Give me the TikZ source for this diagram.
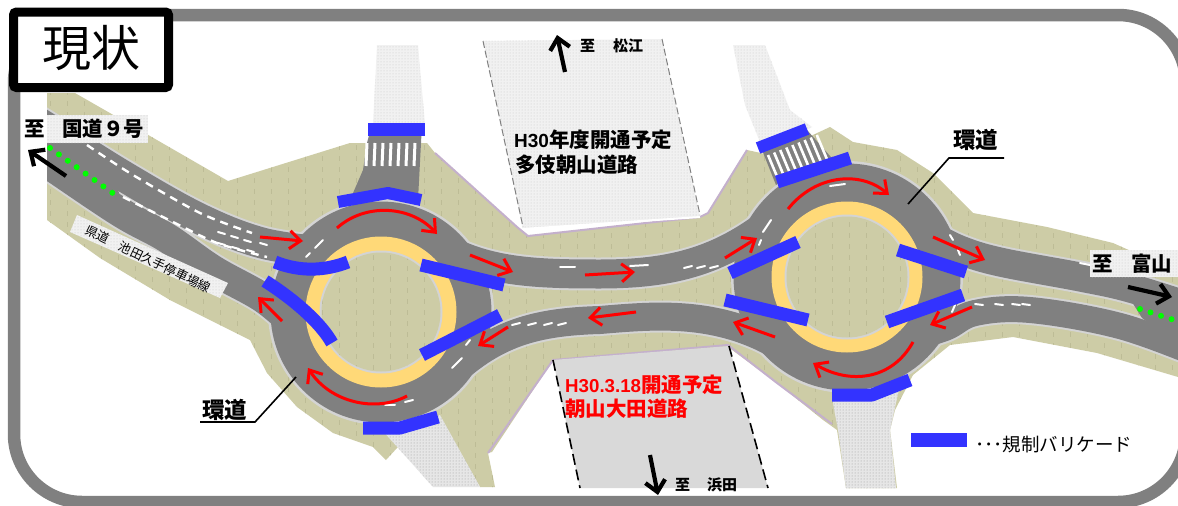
\documentclass[tikz,border=0pt]{standalone}
\usepackage{fontspec}
\setmainfont{Liberation Sans}
\newfontfamily\cjk{Noto Sans CJK JP}
\usetikzlibrary{arrows.meta,patterns}
\definecolor{khaki}{HTML}{CDCCA6}
\definecolor{khakid}{HTML}{BDBC96}
\definecolor{roadg}{HTML}{808080}
\definecolor{edgeg}{HTML}{D4D4D4}
\definecolor{lilac}{HTML}{C4B0CC}
\definecolor{ringy}{HTML}{FFD978}
\definecolor{barb}{HTML}{3333FF}
\definecolor{framegr}{HTML}{808080}
\definecolor{paleg}{HTML}{F1F1F1}
\definecolor{legg}{HTML}{E6E6E6}
\definecolor{zoneg}{HTML}{D9D9D9}
\tikzset{
  redar/.style={draw=red,line width=3pt,-{Straight Barb[length=11pt,width=18pt,line width=3pt]}},
  blackar/.style={draw=black,line width=4.2pt,-{Straight Barb[length=11pt,width=20pt,line width=4.2pt]}},
  barricade/.style={draw=barb,line width=13pt,line join=round},
  dotzone/.style={fill=paleg,postaction={pattern=dots,pattern color=gray!45}},
  legzone/.style={fill=legg,postaction={pattern=dots,pattern color=gray!80}},
  lanemark/.style={draw=white,line width=2.4pt,dash pattern=on 8pt off 6pt},
  paint/.style={draw=white,line width=2pt,line cap=round},
  lab/.style={font=\cjk\bfseries,text=black,inner sep=0pt,anchor=base west},
  leader/.style={draw=black,line width=1.6pt},
  roadline/.style={line cap=round},
}
\newcommand{\groundpath}{(47,93)--(75,93)--(150,136)--(228,181)--(350,143)--(427,143)--(435,153)--(517,227)--(528,236)--(700,217)--(708,213)--(747,150)--(770,155)--(830,127)--(853,142)--(897,150)--(933,173)--(973,213)--(1047,227)--(1113,243)--(1178,272)--(1178,377)--(1097,353)--(1013,337)--(950,345)--(913,375)--(895,410)--(890,430)--(897,488)--(846,488)--(837,430)--(823,420)--(777,383)--(728,347)--(553,360)--(492,452)--(488,453)--(495,487)--(480,487)--(440,417)--(397,448)--(386,460)--(373,447)--(333,433)--(297,407)--(267,373)--(250,340)--(170,300)--(100,258)--(47,220)--cycle}
\newcommand{\roadA}{plot[smooth,tension=.6] coordinates {(15,108)(47,128)(125,177)(200,219)(262,243)(322,252)}}
\newcommand{\roadB}{plot[smooth,tension=.6] coordinates {(15,142)(47,163)(120,212)(167,238)(213,270)(263,298)(295,325)}}
\newcommand{\roadC}{(428,238) .. controls (478,272) and (530,274) .. (600,274) .. controls (680,274) and (730,258) .. (790,205)}
\newcommand{\roadD}{(440,385) .. controls (490,335) and (530,322) .. (600,320) .. controls (660,315) and (730,308) .. (800,360)}
\newcommand{\roadE}{plot[smooth,tension=.6] coordinates {(930,235)(960,250)(1000,262)(1080,277)(1130,288)(1200,310)}}
\newcommand{\roadF}{plot[smooth,tension=.6] coordinates {(905,340)(945,328)(975,313)(1030,310)(1120,326)(1200,355)}}
\begin{document}
\begin{tikzpicture}[x=1pt,y=-1pt]
\path[use as bounding box,clip] (0,0) rectangle (1178,506);
\fill[white] (0,0) rectangle (1178,506);
% frame
\draw[framegr,line width=12.5pt,rounded corners=68pt] (14,15) rectangle (1186,502);
% ground
\fill[khaki] \groundpath;
\begin{scope}
\clip \groundpath;
\foreach \vx in {50,67,...,1178}{\draw[khakid,line width=.8pt,dash pattern=on 5pt off 6pt] (\vx,90)--(\vx,490);}
\end{scope}
% lilac edges
\draw[lilac,line width=2pt] (435,153)--(517,227)--(528,236)--(700,217)--(708,213)--(747,150);
\draw[lilac,line width=2pt] (488,453)--(553,360)--(728,345)--(777,383)--(832,424);
% dotted zones
\path[dotzone] (483,41)--(662,39)--(700,217)--(523,229)--cycle;
\draw[white,line width=2pt] (523,229)--(700,217);
\draw[gray,line width=1pt,dash pattern=on 7pt off 3pt] (483,41)--(523,227);
\draw[gray,line width=1pt,dash pattern=on 7pt off 3pt] (662,39)--(700,215);
\path[dotzone] (377,45)--(418,45)--(425,124)--(373,124)--cycle;
\path[dotzone] (733,45)--(765,45)--(790,110)--(812,127)--(764,152)--(745,105)--cycle;
\path[legzone] (382,430)--(440,415)--(480,487)--(433,487)--cycle;
\path[legzone] (832,398)--(900,385)--(890,430)--(896,488)--(846,488)--(838,430)--cycle;
% future road zone south
\fill[zoneg] (553,360)--(729,346)--(768,488)--(580,488)--cycle;
\draw[black,line width=1.6pt,dash pattern=on 11pt off 5pt] (553,360)--(580,488);
\draw[black,line width=1.6pt,dash pattern=on 11pt off 5pt] (729,346)--(768,488);
% leg roads
\fill[roadg] (372,124)--(422,124)--(418,200)--(350,200)--(363,170)--(367,143)--cycle;
\fill[roadg] (762,150)--(807,130)--(838,165)--(780,195)--cycle;
% crosswalks
\foreach \vx in {367,375,...,415}{\draw[white,line width=3pt] (\vx,143)--(\vx-1,166);}
\foreach \i in {0,...,8}{\draw[white,line width=2.6pt] ({768+\i*6.1},{155-\i*2.5})--({781+\i*6.1},{186-\i*2.5});}
% road network, cut off at the west margin
\begin{scope}
\clip (47,0) rectangle (1178,506);
\draw[edgeg,roadline,line width=35pt] \roadA;
\draw[edgeg,roadline,line width=34pt] \roadB;
\draw[edgeg,roadline,line width=33pt] \roadC;
\draw[edgeg,roadline,line width=32pt] \roadD;
\draw[edgeg,roadline,line width=33pt] \roadE;
\draw[edgeg,roadline,line width=30pt] \roadF;
\fill[edgeg] (381,312) circle[radius=113];
\fill[edgeg] (847,277) circle[radius=116];
\draw[roadg,roadline,line width=31pt] \roadA;
\draw[roadg,roadline,line width=30pt] \roadB;
\draw[roadg,roadline,line width=29pt] \roadC;
\draw[roadg,roadline,line width=28pt] \roadD;
\draw[roadg,roadline,line width=29pt] \roadE;
\draw[roadg,roadline,line width=26pt] \roadF;
\fill[roadg] (47,125)--(110,165)--(120,196)--(47,165)--cycle;
\fill[roadg] (1132,302)--(1178,302)--(1178,345)--(1142,318)--cycle;
\fill[roadg] (381,312) circle[radius=110.5];
\fill[roadg] (847,277) circle[radius=113.5];
\end{scope}
% central islands
\fill[ringy] (381,312) circle[radius=75.5];
\fill[edgeg] (381,312) circle[radius=61.5];
\fill[khaki] (381,312) circle[radius=59.5];
\fill[ringy] (847,277) circle[radius=75.5];
\fill[edgeg] (847,277) circle[radius=62.5];
\fill[khaki] (847,277) circle[radius=60.5];
\begin{scope}
\clip (381,312) circle[radius=59.5] (847,277) circle[radius=60.5];
\foreach \vx in {50,67,...,1178}{\draw[khakid,line width=.8pt,dash pattern=on 5pt off 6pt] (\vx,200)--(\vx,400);}
\end{scope}
% green dots and road marks on the west approach
\foreach \i in {0,...,7}{\fill[green] ({50+\i*8.9},{148+\i*6.4}) circle[radius=3];}
\draw[lanemark] plot[smooth] coordinates {(87,145)(133,175)(200,213)(252,233)};
\draw[lanemark] plot[smooth] coordinates {(123,197)(167,219)(217,243)(267,257)};
\foreach \sx/\sy in {218/232,231/236,244/240,218/243,232/247,247/250,260/243}{\draw[paint] (\sx,\sy)--++(7,2);}
\foreach \sx in {512,528,544,558}{\draw[paint] (\sx,325)--++(8,-2);}
\foreach \sx in {684,697,710}{\draw[paint] (\sx,268)--++(8,-2);}
\foreach \sx in {975,995,1012,1022}{\draw[paint] (\sx,304)--++(8,1);}
\draw[paint] (560,267)--(575,267);\draw[paint] (630,266)--(648,265);
\draw[paint] (1080,263)--(1095,266);
\draw[paint] (315,248)--(323,240);\draw[paint] (306,257)--(310,253);
\draw[paint] (452,368)--(462,358);\draw[paint] (466,345)--(470,340);
\draw[paint] (385,405)--(395,405);\draw[paint] (405,402)--(413,400);
\draw[paint] (763,232)--(771,220);\draw[paint] (759,245)--(761,240);
\draw[paint] (830,186)--(845,184);
\draw[paint] (950,235)--(953,240);\draw[paint] (958,250)--(960,255);
\draw[paint] (952,312)--(955,305);
% green dots east
\foreach \i in {0,...,3}{\fill[green] ({1140+\i*10.5},{309+\i*3.4}) circle[radius=3];}
% barricades
\draw[barricade] (368,129.5)--(425,129.5);
\draw[barricade,line width=12pt] (338,202)--(388,193)--(421,200);
\draw[barricade,line width=13pt] (275,262) .. controls (300,272) and (325,271) .. (348,262);
\draw[barricade,line width=13pt] (421,265)--(504,285);
\draw[barricade] (265,281) .. controls (298,302) and (322,325) .. (332,343);
\draw[barricade] (500,315)--(422,355);
\draw[barricade] (363,428)--(400,428)--(438,417);
\draw[barricade,line width=12pt] (758,148)--(807,129);
\draw[barricade] (777,182)--(850,158);
\draw[barricade] (730,273)--(798,242);
\draw[barricade] (898,250)--(966,272);
\draw[barricade] (725,300)--(808,320);
\draw[barricade] (887,322)--(963,295);
\draw[barricade] (832,395)--(872,395)--(910,380);
% red flow arrows
\draw[redar] (260,237)--(303,241);
\draw[redar] (337,228) .. controls (365,203) and (410,205) .. (437,234);
\draw[redar] (470,255)--(513,272);
\draw[redar] (585,275)--(635,272);
\draw[redar] (636,312)--(588,318);
\draw[redar] (508,327)--(478,346);
\draw[redar] (282,321)--(258,297);
\draw[redar] (407,396) .. controls (375,413) and (330,402) .. (308,368);
\draw[redar] (725,258)--(757,238);
\draw[redar] (788,209) .. controls (815,175) and (860,170) .. (889,195);
\draw[redar] (933,237)--(985,260);
\draw[redar] (972,307)--(930,325);
\draw[redar] (913,342) .. controls (892,380) and (850,385) .. (813,363);
\draw[redar] (775,337)--(733,322);
% black direction arrows
\draw[blackar] (66,176)--(28,150);
\draw[blackar] (565,72)--(557,35);
\draw[blackar] (1128,287)--(1172,297);
\draw[blackar] (650,455)--(658,495);
% labels with pale patches
\path[dotzone] (47,115) rectangle (148,143);
\path[dotzone] (1090,250) rectangle (1178,277);
\path[dotzone] (77,215)--(228,283)--(220,298)--(70,232)--cycle;
\node[lab,font=\cjk\bfseries\fontsize{20.5}{24}\selectfont] (toK) at (24,136) {至};
\node[lab,font=\cjk\bfseries\fontsize{20.5}{24}\selectfont] (kokudo) at (62,136) {国道９号};
\node[lab,font=\cjk\bfseries\fontsize{20.5}{24}\selectfont] (toT) at (1092,271) {至};
\node[lab,font=\cjk\bfseries\fontsize{20.5}{24}\selectfont] (toyama) at (1131,271) {富山};
\node[lab,font=\cjk\bfseries\fontsize{15}{18}\selectfont] (toM) at (580,51) {至};
\node[lab,font=\cjk\bfseries\fontsize{15}{18}\selectfont] (matsue) at (613,51) {松江};
\node[lab,font=\cjk\bfseries\fontsize{15}{18}\selectfont] (toH) at (675,490) {至};
\node[lab,font=\cjk\bfseries\fontsize{15}{18}\selectfont] (hamada) at (707,490) {浜田};
\node[lab,font=\cjk\bfseries\fontsize{20.5}{24}\selectfont] (h30a) at (514,147) {{\rmfamily\fontsize{19}{24}\selectfont\bfseries H30}年度開通予定};
\node[lab,font=\cjk\bfseries\fontsize{20.5}{24}\selectfont] (tagi) at (515,172) {多伎朝山道路};
\node[lab,text=red,font=\cjk\bfseries\fontsize{20.5}{24}\selectfont] (h30b) at (565,392) {{\rmfamily\fontsize{18.7}{24}\selectfont\bfseries H30.3.18}開通予定};
\node[lab,text=red,font=\cjk\bfseries\fontsize{20.5}{24}\selectfont] (asayama) at (565,416) {朝山大田道路};
\node[inner sep=0pt,rotate=-26,font=\cjk\fontsize{12.5}{15}\selectfont] (kendo) at (148,259) {県道　池田久手停車場線};
% ring-road leaders
\node[lab,font=\cjk\bfseries\fontsize{22.5}{26}\selectfont] (kanE) at (953,148) {環道};
\node[lab,font=\cjk\bfseries\fontsize{22.5}{26}\selectfont] (kanW) at (202,418) {環道};
\coordinate (kanEa) at (1004,158);\coordinate (kanEb) at (949,158);\coordinate (kanEc) at (908,204);
\coordinate (kanWa) at (200,422);\coordinate (kanWb) at (255,422);\coordinate (kanWc) at (296,377);
\draw[leader] (kanEa)--(kanEb)--(kanEc);
\draw[leader] (kanWa)--(kanWb)--(kanWc);
% legend
\fill[barb] (911,433) rectangle (967,447) coordinate (legendbar);
\node[lab,font=\cjk\fontsize{18.5}{22}\selectfont] (legend) at (975,451) {･･･規制バリケード};
% title
\draw[black,fill=white,line width=9pt,rounded corners=3pt] (13.5,12) rectangle (168.5,87.5);
\node[inner sep=0pt,font=\cjk\fontsize{49}{56}\selectfont] (title) at (91,48) {現状};
\end{tikzpicture}
\end{document}
